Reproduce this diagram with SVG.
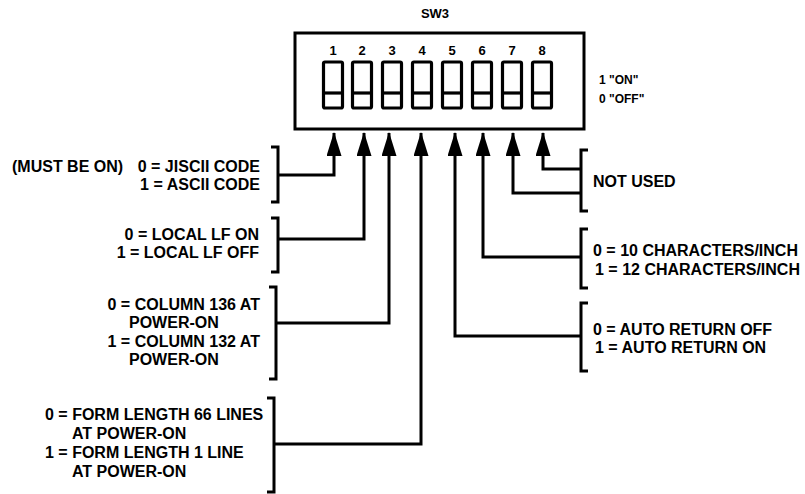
<svg xmlns="http://www.w3.org/2000/svg" width="805" height="494" viewBox="0 0 805 494">
<style>
.t{font-family:"Liberation Sans",Arial,sans-serif;font-weight:bold;font-size:16px;fill:#000}
.s{font-family:"Liberation Sans",Arial,sans-serif;font-weight:bold;font-size:13px;fill:#000}
.sm{font-family:"Liberation Sans",Arial,sans-serif;font-weight:bold;font-size:12px;fill:#000}
.ln{fill:none;stroke:#000;stroke-width:3;stroke-linejoin:miter}
.sw{fill:none;stroke:#000;stroke-width:3.2}
</style>
<defs>
<marker id="ah" markerUnits="userSpaceOnUse" markerWidth="24" markerHeight="15" refX="23" refY="7.5" orient="auto" viewBox="0 0 24 15">
<path d="M0,0 L24,7.5 L0,15 Z" fill="#000"/>
</marker>
</defs>
<rect width="805" height="494" fill="#fff"/>
<g id="sw3">
<text class="s" x="435" y="18" text-anchor="middle">SW3</text>
<rect class="ln" x="295" y="33" width="289" height="96"/>
<g class="sw">
<rect x="323.5" y="62" width="19" height="46" rx="1.5"/><line x1="323.5" y1="93" x2="342.5" y2="93"/>
<rect x="352.5" y="62" width="19" height="46" rx="1.5"/><line x1="352.5" y1="93" x2="371.5" y2="93"/>
<rect x="382.5" y="62" width="19" height="46" rx="1.5"/><line x1="382.5" y1="93" x2="401.5" y2="93"/>
<rect x="412.5" y="62" width="19" height="46" rx="1.5"/><line x1="412.5" y1="93" x2="431.5" y2="93"/>
<rect x="442.5" y="62" width="19" height="46" rx="1.5"/><line x1="442.5" y1="93" x2="461.5" y2="93"/>
<rect x="472.5" y="62" width="19" height="46" rx="1.5"/><line x1="472.5" y1="93" x2="491.5" y2="93"/>
<rect x="502.5" y="62" width="19" height="46" rx="1.5"/><line x1="502.5" y1="93" x2="521.5" y2="93"/>
<rect x="532.5" y="62" width="19" height="46" rx="1.5"/><line x1="532.5" y1="93" x2="551.5" y2="93"/>
</g>
<g class="s" text-anchor="middle">
<text x="333" y="55">1</text><text x="362" y="55">2</text><text x="392" y="55">3</text><text x="422" y="55">4</text>
<text x="452" y="55">5</text><text x="482" y="55">6</text><text x="512" y="55">7</text><text x="542" y="55">8</text>
</g>
<text class="sm" x="599" y="84">1 "ON"</text>
<text class="sm" x="599" y="103">0 "OFF"</text>
</g>
<g id="connectors">
<path class="ln" d="M278,175 H334 V133" marker-end="url(#ah)"/>
<path class="ln" d="M278,239 H364 V133" marker-end="url(#ah)"/>
<path class="ln" d="M276,323 H389 V133" marker-end="url(#ah)"/>
<path class="ln" d="M274,444 H421 V133" marker-end="url(#ah)"/>
<path class="ln" d="M581,336 H455 V133" marker-end="url(#ah)"/>
<path class="ln" d="M581,257 H483 V133" marker-end="url(#ah)"/>
<path class="ln" d="M581,193 H513 V133" marker-end="url(#ah)"/>
<path class="ln" d="M581,169 H543 V133" marker-end="url(#ah)"/>
</g>
<g id="n1">
<path class="ln" d="M271,147 H278 V202 H271"/>
<text class="t" x="12" y="172">(MUST BE ON)</text>
<text class="t" x="260" y="172" text-anchor="end">0 = JISCII CODE</text>
<text class="t" x="260" y="190" text-anchor="end">1 = ASCII CODE</text>
</g>
<g id="n2">
<path class="ln" d="M271,218 H278 V272 H271"/>
<text class="t" x="259" y="240" text-anchor="end">0 = LOCAL LF ON</text>
<text class="t" x="259" y="258" text-anchor="end">1 = LOCAL LF OFF</text>
</g>
<g id="n3">
<path class="ln" d="M269,287 H276 V379 H269"/>
<text class="t" x="260" y="310" text-anchor="end">0 = COLUMN 136 AT</text>
<text class="t" x="129" y="328">POWER-ON</text>
<text class="t" x="260" y="347" text-anchor="end">1 = COLUMN 132 AT</text>
<text class="t" x="129" y="365">POWER-ON</text>
</g>
<g id="n4">
<path class="ln" d="M267,398 H274 V492 H267"/>
<text class="t" x="45" y="420">0 = FORM LENGTH 66 LINES</text>
<text class="t" x="72" y="439">AT POWER-ON</text>
<text class="t" x="45" y="458">1 = FORM LENGTH 1 LINE</text>
<text class="t" x="72" y="477">AT POWER-ON</text>
</g>
<g id="n8">
<path class="ln" d="M588,150 H581 V211 H588"/>
<text class="t" x="593" y="187">NOT USED</text>
</g>
<g id="n6">
<path class="ln" d="M588,229 H581 V288 H588"/>
<text class="t" x="593" y="256">0 = 10 CHARACTERS/INCH</text>
<text class="t" x="595" y="275">1 = 12 CHARACTERS/INCH</text>
</g>
<g id="n5">
<path class="ln" d="M588,303 H581 V371 H588"/>
<text class="t" x="593" y="335">0 = AUTO RETURN OFF</text>
<text class="t" x="595" y="353">1 = AUTO RETURN ON</text>
</g>
</svg>
